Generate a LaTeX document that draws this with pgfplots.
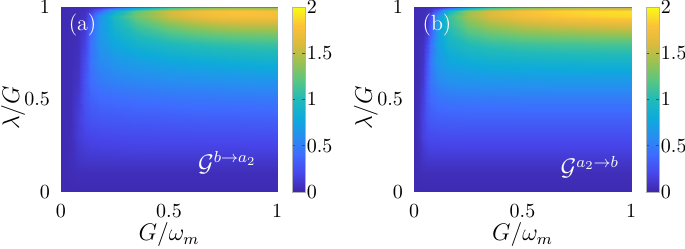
\documentclass[border=0pt]{standalone}
\usepackage{pgfplots}
\pgfplotsset{compat=1.18}
\pgfplotsset{
  colormap={parula}{rgb=(0.2422,0.1504,0.6603) rgb=(0.2789,0.2738,0.9208) rgb=(0.2476,0.4173,0.9969) rgb=(0.1496,0.5606,0.9436) rgb=(0.0530,0.6690,0.8560) rgb=(0.1260,0.7290,0.7260) rgb=(0.3400,0.7760,0.5180) rgb=(0.6000,0.7600,0.3200) rgb=(0.8600,0.7300,0.2400) rgb=(0.9900,0.7600,0.2200) rgb=(0.9769,0.9839,0.0805)},
  heat/.style={
    scale only axis, height=92.5pt,
    xmin=0, xmax=1, ymin=0, ymax=1,
    view={0}{90},
    xtick={0,0.5,1}, ytick={0,0.5,1},
    major tick length=0pt,
    axis line style={draw=none},
    xticklabel style={yshift=-3pt},
    yticklabel style={xshift=-2pt},
    tick label style={font=\fontsize{10}{12}\selectfont},
    label style={font=\fontsize{12}{14}\selectfont},
    xlabel={$G/\omega_m$}, ylabel={$\lambda/G$},
    xlabel style={at={(axis description cs:0.5,-0.232)}, anchor=center},
    ylabel style={at={(axis description cs:-0.222,0.455)}, anchor=center},
    colormap name=parula,
    point meta min=0, point meta max=2,
    colorbar,
    colorbar style={
      at={(parent axis.north east)}, anchor=north west, xshift=-1pt,
      width=6.5pt,
      ytick={0,0.5,1,1.5,2},
      yticklabel style={xshift=-2.6pt, font=\fontsize{9.6}{11}\selectfont},
      major tick length=1.5pt, tick align=inside,
      tick style={black!70, line width=0.3pt},
      axis line style={black!30, line width=0.3pt},
    },
  },
}
\begin{document}
\begin{tikzpicture}
\useasboundingbox (0,0) rectangle (342.5pt,124.5pt);
% ---------------- (a) ----------------
\begin{axis}[heat, width=108pt, at={(30.5pt,28.5pt)}, anchor=south west]
\addplot3[surf, shader=interp, mesh/rows=16, mesh/cols=14] coordinates {
(0,0,0.03) (0.04,0,0.03) (0.08,0,0.03) (0.11,0,0.03) (0.14,0,0.03) (0.18,0,0.03) (0.25,0,0.03) (0.35,0,0.03) (0.5,0,0.03) (0.6,0,0.03) (0.7,0,0.03) (0.8,0,0.03) (0.9,0,0.03) (1,0,0.03)
(0,0.1,0.03) (0.04,0.1,0.04) (0.08,0.1,0.05) (0.11,0.1,0.05) (0.14,0.1,0.05) (0.18,0.1,0.05) (0.25,0.1,0.05) (0.35,0.1,0.05) (0.5,0.1,0.05) (0.6,0.1,0.05) (0.7,0.1,0.05) (0.8,0.1,0.05) (0.9,0.1,0.05) (1,0.1,0.05)
(0,0.15,0.03) (0.04,0.15,0.05) (0.08,0.15,0.08) (0.11,0.15,0.09) (0.14,0.15,0.09) (0.18,0.15,0.09) (0.25,0.15,0.09) (0.35,0.15,0.09) (0.5,0.15,0.09) (0.6,0.15,0.09) (0.7,0.15,0.09) (0.8,0.15,0.09) (0.9,0.15,0.09) (1,0.15,0.09)
(0,0.2,0.03) (0.04,0.2,0.05) (0.08,0.2,0.10) (0.11,0.2,0.12) (0.14,0.2,0.13) (0.18,0.2,0.13) (0.25,0.2,0.135) (0.35,0.2,0.14) (0.5,0.2,0.14) (0.6,0.2,0.14) (0.7,0.2,0.14) (0.8,0.2,0.14) (0.9,0.2,0.14) (1,0.2,0.14)
(0,0.3,0.03) (0.04,0.3,0.05) (0.08,0.3,0.14) (0.11,0.3,0.18) (0.14,0.3,0.20) (0.18,0.3,0.21) (0.25,0.3,0.22) (0.35,0.3,0.225) (0.5,0.3,0.23) (0.6,0.3,0.23) (0.7,0.3,0.235) (0.8,0.3,0.235) (0.9,0.3,0.24) (1,0.3,0.24)
(0,0.4,0.03) (0.04,0.4,0.04) (0.08,0.4,0.15) (0.11,0.4,0.24) (0.14,0.4,0.28) (0.18,0.4,0.30) (0.25,0.4,0.31) (0.35,0.4,0.32) (0.5,0.4,0.33) (0.6,0.4,0.335) (0.7,0.4,0.34) (0.8,0.4,0.34) (0.9,0.4,0.345) (1,0.4,0.35)
(0,0.5,0.03) (0.04,0.5,0.04) (0.08,0.5,0.12) (0.11,0.5,0.28) (0.14,0.5,0.35) (0.18,0.5,0.39) (0.25,0.5,0.41) (0.35,0.5,0.43) (0.5,0.5,0.45) (0.6,0.5,0.46) (0.7,0.5,0.46) (0.8,0.5,0.47) (0.9,0.5,0.47) (1,0.5,0.48)
(0,0.6,0.03) (0.04,0.6,0.04) (0.08,0.6,0.09) (0.11,0.6,0.28) (0.14,0.6,0.42) (0.18,0.6,0.49) (0.25,0.6,0.53) (0.35,0.6,0.56) (0.5,0.6,0.59) (0.6,0.6,0.60) (0.7,0.6,0.61) (0.8,0.6,0.62) (0.9,0.6,0.63) (1,0.6,0.63)
(0,0.7,0.03) (0.04,0.7,0.04) (0.08,0.7,0.07) (0.11,0.7,0.24) (0.14,0.7,0.46) (0.18,0.7,0.57) (0.25,0.7,0.65) (0.35,0.7,0.71) (0.5,0.7,0.76) (0.6,0.7,0.79) (0.7,0.7,0.81) (0.8,0.7,0.83) (0.9,0.7,0.85) (1,0.7,0.86)
(0,0.8,0.03) (0.04,0.8,0.04) (0.08,0.8,0.06) (0.11,0.8,0.18) (0.14,0.8,0.45) (0.18,0.8,0.64) (0.25,0.8,0.78) (0.35,0.8,0.89) (0.5,0.8,0.98) (0.6,0.8,1.02) (0.7,0.8,1.05) (0.8,0.8,1.07) (0.9,0.8,1.09) (1,0.8,1.10)
(0,0.85,0.03) (0.04,0.85,0.04) (0.08,0.85,0.06) (0.11,0.85,0.15) (0.14,0.85,0.42) (0.18,0.85,0.66) (0.25,0.85,0.85) (0.35,0.85,1.00) (0.5,0.85,1.13) (0.6,0.85,1.19) (0.7,0.85,1.23) (0.8,0.85,1.26) (0.9,0.85,1.27) (1,0.85,1.28)
(0,0.9,0.03) (0.04,0.9,0.04) (0.08,0.9,0.05) (0.11,0.9,0.12) (0.14,0.9,0.38) (0.18,0.9,0.66) (0.25,0.9,0.92) (0.35,0.9,1.13) (0.5,0.9,1.32) (0.6,0.9,1.41) (0.7,0.9,1.47) (0.8,0.9,1.51) (0.9,0.9,1.52) (1,0.9,1.52)
(0,0.95,0.03) (0.04,0.95,0.04) (0.08,0.95,0.05) (0.11,0.95,0.09) (0.14,0.95,0.30) (0.18,0.95,0.62) (0.25,0.95,0.98) (0.35,0.95,1.28) (0.5,0.95,1.55) (0.6,0.95,1.66) (0.7,0.95,1.73) (0.8,0.95,1.76) (0.9,0.95,1.76) (1,0.95,1.74)
(0,0.98,0.03) (0.04,0.98,0.04) (0.08,0.98,0.05) (0.11,0.98,0.07) (0.14,0.98,0.15) (0.18,0.98,0.40) (0.25,0.98,0.85) (0.35,0.98,1.25) (0.5,0.98,1.58) (0.6,0.98,1.70) (0.7,0.98,1.77) (0.8,0.98,1.80) (0.9,0.98,1.79) (1,0.98,1.76)
(0,0.995,0.03) (0.04,0.995,0.03) (0.08,0.995,0.04) (0.11,0.995,0.05) (0.14,0.995,0.07) (0.18,0.995,0.15) (0.25,0.995,0.40) (0.35,0.995,0.80) (0.5,0.995,1.15) (0.6,0.995,1.30) (0.7,0.995,1.38) (0.8,0.995,1.42) (0.9,0.995,1.43) (1,0.995,1.42)
(0,1,0.03) (0.04,1,0.03) (0.08,1,0.03) (0.11,1,0.04) (0.14,1,0.05) (0.18,1,0.07) (0.25,1,0.12) (0.35,1,0.25) (0.5,1,0.40) (0.6,1,0.50) (0.7,1,0.55) (0.8,1,0.60) (0.9,1,0.60) (1,1,0.60)
};
\node[white, font=\fontsize{11}{13}\selectfont] at (axis description cs:0.1,0.9) {(a)};
\node[white, font=\fontsize{12}{14}\selectfont] at (axis description cs:0.77,0.157) {$\mathcal{G}^{b\to a_2}$};
\end{axis}
% ---------------- (b) ----------------
\begin{axis}[heat, width=108.5pt, at={(207pt,28.5pt)}, anchor=south west]
\addplot3[surf, shader=interp, mesh/rows=16, mesh/cols=14] coordinates {
(0,0,0.03) (0.02,0,0.03) (0.04,0,0.03) (0.06,0,0.03) (0.08,0,0.03) (0.11,0,0.03) (0.16,0,0.03) (0.25,0,0.03) (0.35,0,0.03) (0.5,0,0.03) (0.65,0,0.03) (0.8,0,0.03) (0.9,0,0.03) (1,0,0.03)
(0,0.1,0.03) (0.02,0.1,0.04) (0.04,0.1,0.05) (0.06,0.1,0.05) (0.08,0.1,0.05) (0.11,0.1,0.05) (0.16,0.1,0.05) (0.25,0.1,0.05) (0.35,0.1,0.05) (0.5,0.1,0.05) (0.65,0.1,0.05) (0.8,0.1,0.05) (0.9,0.1,0.05) (1,0.1,0.05)
(0,0.15,0.03) (0.02,0.15,0.05) (0.04,0.15,0.08) (0.06,0.15,0.09) (0.08,0.15,0.09) (0.11,0.15,0.09) (0.16,0.15,0.09) (0.25,0.15,0.09) (0.35,0.15,0.09) (0.5,0.15,0.09) (0.65,0.15,0.09) (0.8,0.15,0.09) (0.9,0.15,0.09) (1,0.15,0.09)
(0,0.2,0.03) (0.02,0.2,0.05) (0.04,0.2,0.10) (0.06,0.2,0.13) (0.08,0.2,0.14) (0.11,0.2,0.14) (0.16,0.2,0.14) (0.25,0.2,0.14) (0.35,0.2,0.14) (0.5,0.2,0.14) (0.65,0.2,0.14) (0.8,0.2,0.14) (0.9,0.2,0.14) (1,0.2,0.14)
(0,0.3,0.03) (0.02,0.3,0.07) (0.04,0.3,0.17) (0.06,0.3,0.21) (0.08,0.3,0.23) (0.11,0.3,0.235) (0.16,0.3,0.24) (0.25,0.3,0.24) (0.35,0.3,0.24) (0.5,0.3,0.24) (0.65,0.3,0.24) (0.8,0.3,0.24) (0.9,0.3,0.24) (1,0.3,0.24)
(0,0.4,0.03) (0.02,0.4,0.06) (0.04,0.4,0.18) (0.06,0.4,0.28) (0.08,0.4,0.32) (0.11,0.4,0.34) (0.16,0.4,0.345) (0.25,0.4,0.35) (0.35,0.4,0.35) (0.5,0.4,0.35) (0.65,0.4,0.35) (0.8,0.4,0.35) (0.9,0.4,0.35) (1,0.4,0.35)
(0,0.5,0.03) (0.02,0.5,0.05) (0.04,0.5,0.16) (0.06,0.5,0.32) (0.08,0.5,0.40) (0.11,0.5,0.45) (0.16,0.5,0.47) (0.25,0.5,0.48) (0.35,0.5,0.485) (0.5,0.5,0.49) (0.65,0.5,0.49) (0.8,0.5,0.49) (0.9,0.5,0.49) (1,0.5,0.49)
(0,0.6,0.03) (0.02,0.6,0.04) (0.04,0.6,0.12) (0.06,0.6,0.32) (0.08,0.6,0.47) (0.11,0.6,0.57) (0.16,0.6,0.62) (0.25,0.6,0.64) (0.35,0.6,0.65) (0.5,0.6,0.655) (0.65,0.6,0.66) (0.8,0.6,0.66) (0.9,0.6,0.66) (1,0.6,0.66)
(0,0.7,0.03) (0.02,0.7,0.04) (0.04,0.7,0.09) (0.06,0.7,0.28) (0.08,0.7,0.50) (0.11,0.7,0.67) (0.16,0.7,0.77) (0.25,0.7,0.82) (0.35,0.7,0.85) (0.5,0.7,0.87) (0.65,0.7,0.88) (0.8,0.7,0.89) (0.9,0.7,0.89) (1,0.7,0.89)
(0,0.8,0.03) (0.02,0.8,0.04) (0.04,0.8,0.07) (0.06,0.8,0.21) (0.08,0.8,0.46) (0.11,0.8,0.72) (0.16,0.8,0.91) (0.25,0.8,1.01) (0.35,0.8,1.07) (0.5,0.8,1.11) (0.65,0.8,1.13) (0.8,0.8,1.14) (0.9,0.8,1.15) (1,0.8,1.15)
(0,0.85,0.03) (0.02,0.85,0.04) (0.04,0.85,0.05) (0.06,0.85,0.14) (0.08,0.85,0.38) (0.11,0.85,0.72) (0.16,0.85,0.98) (0.25,0.85,1.14) (0.35,0.85,1.23) (0.5,0.85,1.30) (0.65,0.85,1.33) (0.8,0.85,1.35) (0.9,0.85,1.36) (1,0.85,1.37)
(0,0.9,0.03) (0.02,0.9,0.04) (0.04,0.9,0.05) (0.06,0.9,0.11) (0.08,0.9,0.33) (0.11,0.9,0.72) (0.16,0.9,1.06) (0.25,0.9,1.29) (0.35,0.9,1.42) (0.5,0.9,1.52) (0.65,0.9,1.57) (0.8,0.9,1.60) (0.9,0.9,1.62) (1,0.9,1.63)
(0,0.95,0.03) (0.02,0.95,0.04) (0.04,0.95,0.05) (0.06,0.95,0.08) (0.08,0.95,0.25) (0.11,0.95,0.66) (0.16,0.95,1.10) (0.25,0.95,1.42) (0.35,0.95,1.60) (0.5,0.95,1.74) (0.65,0.95,1.81) (0.8,0.95,1.85) (0.9,0.95,1.87) (1,0.95,1.88)
(0,0.98,0.03) (0.02,0.98,0.04) (0.04,0.98,0.05) (0.06,0.98,0.06) (0.08,0.98,0.12) (0.11,0.98,0.40) (0.16,0.98,0.95) (0.25,0.98,1.40) (0.35,0.98,1.62) (0.5,0.98,1.78) (0.65,0.98,1.85) (0.8,0.98,1.89) (0.9,0.98,1.90) (1,0.98,1.91)
(0,0.995,0.03) (0.02,0.995,0.03) (0.04,0.995,0.04) (0.06,0.995,0.05) (0.08,0.995,0.06) (0.11,0.995,0.12) (0.16,0.995,0.40) (0.25,0.995,0.85) (0.35,0.995,1.15) (0.5,0.995,1.35) (0.65,0.995,1.45) (0.8,0.995,1.50) (0.9,0.995,1.52) (1,0.995,1.53)
(0,1,0.03) (0.02,1,0.03) (0.04,1,0.03) (0.06,1,0.04) (0.08,1,0.04) (0.11,1,0.05) (0.16,1,0.08) (0.25,1,0.20) (0.35,1,0.35) (0.5,1,0.50) (0.65,1,0.55) (0.8,1,0.60) (0.9,1,0.60) (1,1,0.60)
};
\node[white, font=\fontsize{11}{13}\selectfont] at (axis description cs:0.106,0.9) {(b)};
\node[white, font=\fontsize{12}{14}\selectfont] at (axis description cs:0.81,0.135) {$\mathcal{G}^{a_2\to b}$};
\end{axis}
\end{tikzpicture}
\end{document}
